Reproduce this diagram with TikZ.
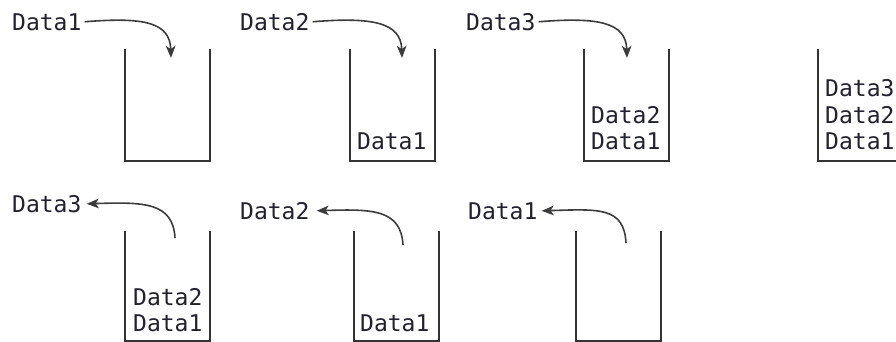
\documentclass[tikz,border=0pt]{standalone}
\usepackage{fontspec}
\setmonofont{DejaVu Sans Mono}
\usetikzlibrary{arrows.meta}
\definecolor{ink}{HTML}{22222C}
\definecolor{wall}{HTML}{333333}
\definecolor{flowc}{HTML}{3C3C3C}
\tikzset{
  lbl/.style={font=\ttfamily\fontsize{23}{26}\selectfont, text=ink, inner sep=0pt,
              text height=17pt, text depth=0pt, anchor=west},
  stack/.style={draw=wall, line width=1.7pt},
  flow/.style={draw=flowc, line width=1.6pt, -{Stealth[length=12pt,width=9.5pt,inset=3pt]}},
}
\begin{document}
\begin{tikzpicture}[x=1pt, y=-1pt]
\useasboundingbox (0,0) rectangle (896,341);
\clip (0,0) rectangle (896,341);

% ---- push: top row ----
\draw[stack] (125,49) |- (210,161) -- (210,49);
\draw[stack] (350,49) |- (435,161) -- (435,49);
\draw[stack] (584,49) |- (669,161) -- (669,49);
\draw[stack] (818,49) |- (900,161);

\node[lbl] (p1) at (12,22) {Data1};
\node[lbl] (p2) at (240,22) {Data2};
\node[lbl] (p3) at (466,22) {Data3};

\coordinate (t1) at (171,58);
\coordinate (t2) at (402,58);
\coordinate (t3) at (627,58);

\draw[flow, shorten <=3pt] (p1.east) .. controls +(62,-5) and +(-1,-36) .. (t1);
\draw[flow, shorten <=3pt] (p2.east) .. controls +(62,-5) and +(-1,-36) .. (t2);
\draw[flow, shorten <=3pt] (p3.east) .. controls +(62,-5) and +(-1,-36) .. (t3);

\node[lbl] (s2a) at (357,141) {Data1};
\node[lbl] (s3b) at (591,114.5) {Data2};
\node[lbl] (s3a) at (591,141) {Data1};
\node[lbl] (s4c) at (825,88) {Data3};
\node[lbl] (s4b) at (825,114.5) {Data2};
\node[lbl] (s4a) at (825,141) {Data1};

% ---- pop: bottom row ----
\draw[stack] (125,231) |- (210,341) -- (210,231);
\draw[stack] (354,231) |- (439,341) -- (439,231);
\draw[stack] (576,231) |- (661,341) -- (661,231);

\node[lbl] (q3) at (12,204) {Data3};
\node[lbl] (q2) at (240,211) {Data2};
\node[lbl] (q1) at (468,211) {Data1};

\coordinate (u1) at (175,238);
\coordinate (u2) at (403,245);
\coordinate (u3) at (626,243);

\draw[flow, shorten >=5pt] (u1) .. controls +(-2,-36) and +(62,-2) .. (q3.east);
\draw[flow, shorten >=7pt] (u2) .. controls +(-2,-36) and +(62,-2) .. (q2.east);
\draw[flow, shorten >=4pt] (u3) .. controls +(-2,-36) and +(62,-2) .. (q1.east);

\node[lbl] (r1b) at (133,297) {Data2};
\node[lbl] (r1a) at (133,323) {Data1};
\node[lbl] (r2a) at (360,323) {Data1};
\end{tikzpicture}
\end{document}
